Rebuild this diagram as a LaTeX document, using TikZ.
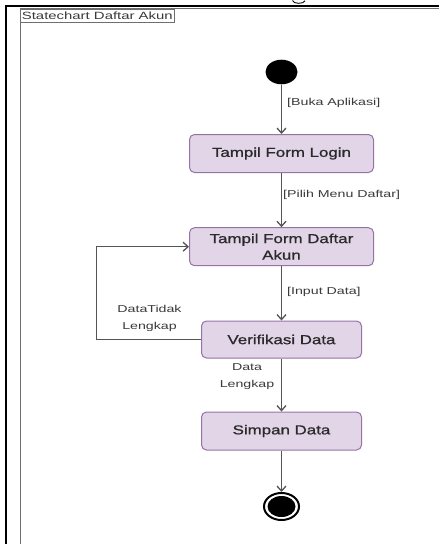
\documentclass[tikz,border=0pt]{standalone}
\usepackage{fontspec}
\setmainfont{Liberation Serif}
\newfontfamily\boxfont[FakeStretch=1.3,FakeBold=0.9]{Liberation Sans}
\newfontfamily\lblfont[FakeStretch=1.42]{Liberation Sans}
\usetikzlibrary{arrows.meta,shapes.geometric}
\definecolor{boxfill}{HTML}{E1D5E7}
\definecolor{boxline}{HTML}{9673A6}
\definecolor{lineg}{HTML}{555555}
\definecolor{textg}{HTML}{2A2A2A}
\definecolor{lbltext}{HTML}{3A3A3A}
\definecolor{framegray}{HTML}{6E6E6E}
\tikzset{
  statebox/.style={draw=boxline, fill=boxfill, rounded corners=5pt, line width=1pt,
    minimum height=38pt, inner sep=0pt, align=center, text=textg,
    font=\boxfont\fontsize{13}{16.5}\selectfont},
  conn/.style={draw=lineg, line width=1.3pt, -{Straight Barb[length=5pt,width=9pt,line width=1.3pt]}},
  lbl/.style={text=lbltext, inner sep=0pt, align=center, font=\lblfont\fontsize{10}{17}\selectfont},
}
\begin{document}
\begin{tikzpicture}[x=1pt,y=-1pt]
\useasboundingbox (0,0) rectangle (439,544);
\fill[white] (0,0) rectangle (439,544);
% cut-off caption fragment (bottom of a descender)
\draw[black, line width=0.9pt] (292.5,0.5) .. controls (293,4.2) and (304,4.2) .. (305,0.8);
% frame
\draw[framegray, line width=1pt] (20,560) -- (20,8.5) -- (450,8.5);
\draw[black, line width=2.6pt] (6,560) -- (6,6) -- (450,6);
\node[draw=framegray, line width=0.8pt, anchor=north west, inner sep=1.5pt, text=lbltext,
  font=\lblfont\fontsize{10.5}{11}\selectfont, minimum height=13.5pt] (title) at (20,8.8) {Statechart Daftar Akun};
% nodes
\node[ellipse, fill=black, minimum width=32pt, minimum height=24.6pt, inner sep=0pt] (init) at (281.5,72) {};
\node[statebox, minimum width=184pt] (login) at (281.5,153.5) {Tampil Form Login};
\node[statebox, minimum width=184pt] (daftar) at (281.5,246.7) {Tampil Form Daftar\\Akun};
\node[statebox, minimum width=160pt, minimum height=37pt] (verif) at (281.5,339.5) {Verifikasi Data};
\node[statebox, minimum width=160pt] (simpan) at (281.5,431) {Simpan Data};
\node[ellipse, draw=black, line width=2pt, minimum width=35pt, minimum height=27pt, inner sep=0pt] (final) at (281.5,506.5) {};
\node[ellipse, fill=black, minimum width=28pt, minimum height=21pt, inner sep=0pt] (finalin) at (final.center) {};
\coordinate (loopx) at (96.7,0);
% connectors
\draw[conn] (init) -- (login);
\draw[conn] (login) -- (daftar);
\draw[conn] (daftar) -- (verif);
\draw[conn] (verif) -- (simpan);
\draw[conn] (simpan) -- (final);
\draw[conn] (verif.west) -- (verif.west -| loopx) |- (daftar.west);
% labels
\node[lbl, anchor=west] (l1) at (287,103) {[Buka Aplikasi]};
\node[lbl, anchor=west] (l2) at (283,195) {[Pilih Menu Daftar]};
\node[lbl, anchor=west] (l3) at (287,291.5) {[Input Data]};
\node[lbl] (l4) at (149.5,318) {DataTidak\\Lengkap};
\node[lbl] (l5) at (247,377) {Data\\Lengkap};
\end{tikzpicture}
\end{document}
